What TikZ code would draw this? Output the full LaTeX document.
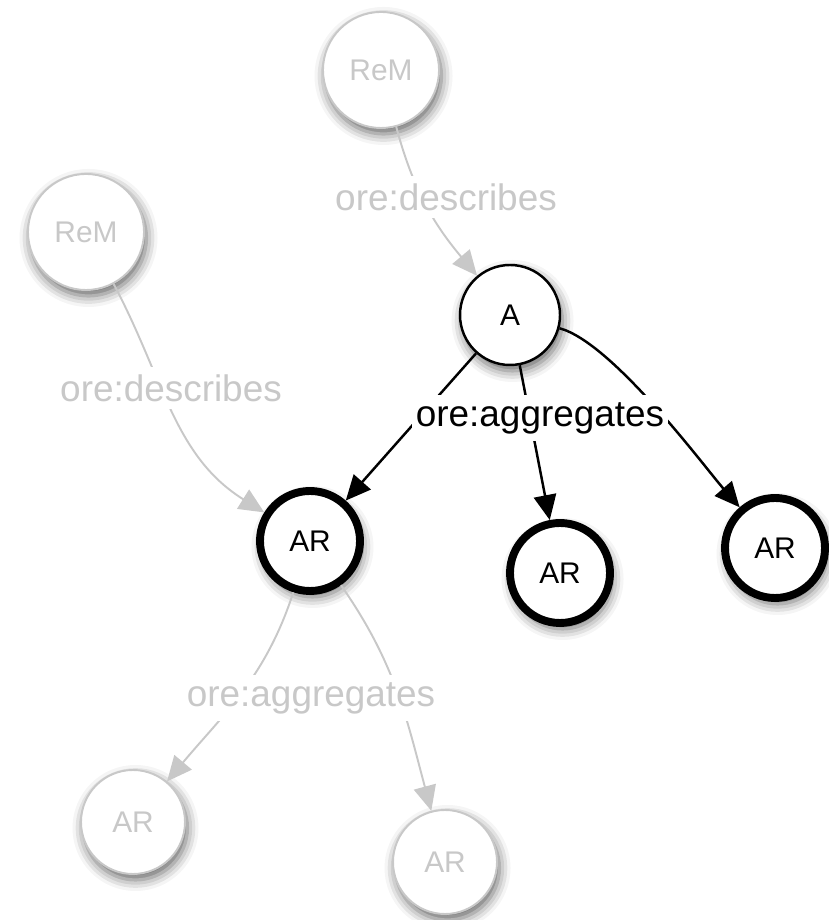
\documentclass[tikz,border=0pt]{standalone}
\usepackage{fontspec}
\setmainfont{Liberation Sans}
\usetikzlibrary{shapes,arrows.meta,positioning,calc,shadows.blur}
\definecolor{faded}{RGB}{200,200,200}

\begin{document}
\begin{tikzpicture}[
    res/.style={circle, draw, fill=white, inner sep=0pt, minimum size=2cm,
        font=\fontsize{17}{20}\selectfont,
        blur shadow={shadow xshift=0.05cm, shadow yshift=-0.12cm, shadow blur radius=0.22cm, shadow opacity=60}},
    ghost/.style={res, draw=faded, text=faded, line width=1.1pt},
    agg/.style={res, line width=4.5pt},
    rel/.style={fill=white, inner xsep=2pt, inner ysep=4pt, font=\fontsize{21}{25}\selectfont},
    arr/.style={-{Triangle[length=0.5cm,width=0.45cm]}},
    faint/.style={faded, line width=1.1pt, arr},
    strong/.style={black, line width=1.4pt, arr}
]
    \useasboundingbox (0,0) rectangle (16.56,18.4);

    % Resource maps
    \node[ghost, minimum size=2.32cm] (rem1) at (7.62,17.0) {ReM};
    \node[ghost, minimum size=2.32cm] (rem2) at (1.72,13.76) {ReM};

    % Aggregation
    \node[res, line width=1.4pt] (a) at (10.2,12.1) {A};

    % Aggregated resources
    \node[agg] (ar1) at (6.2,7.58) {AR};
    \node[agg] (ar2) at (11.2,6.94) {AR};
    \node[agg] (ar3) at (15.5,7.44) {AR};
    \node[ghost, minimum size=2.08cm] (ar4) at (2.66,1.96) {AR};
    \node[ghost, minimum size=2.08cm] (ar5) at (8.9,1.16) {AR};

    % ore:describes
    \draw[faint] (rem1) to[out=-75, in=130] (a);
    \draw[faint] (rem2) to[out=-62, in=148] (ar1);

    % ore:aggregates
    \draw[strong] (a) -- (ar1);
    \draw[strong] (a) -- (ar2);
    \draw[strong] (a) to[out=-15, in=131, looseness=0.55] (ar3);
    \draw[faint] (ar1) to[out=-108, in=50] (ar4);
    \draw[faint] (ar1) to[out=-55, in=105] (ar5);

    % edge labels
    \node[rel, text=faded] (desc1) at (8.92,14.46) {ore:describes};
    \node[rel, text=faded] (desc2) at (3.42,10.64) {ore:describes};
    \node[rel] (aggr1) at (10.8,10.04) {ore:aggregates};
    \node[rel, text=faded] (aggr2) at (6.22,4.44) {ore:aggregates};
\end{tikzpicture}
\end{document}
